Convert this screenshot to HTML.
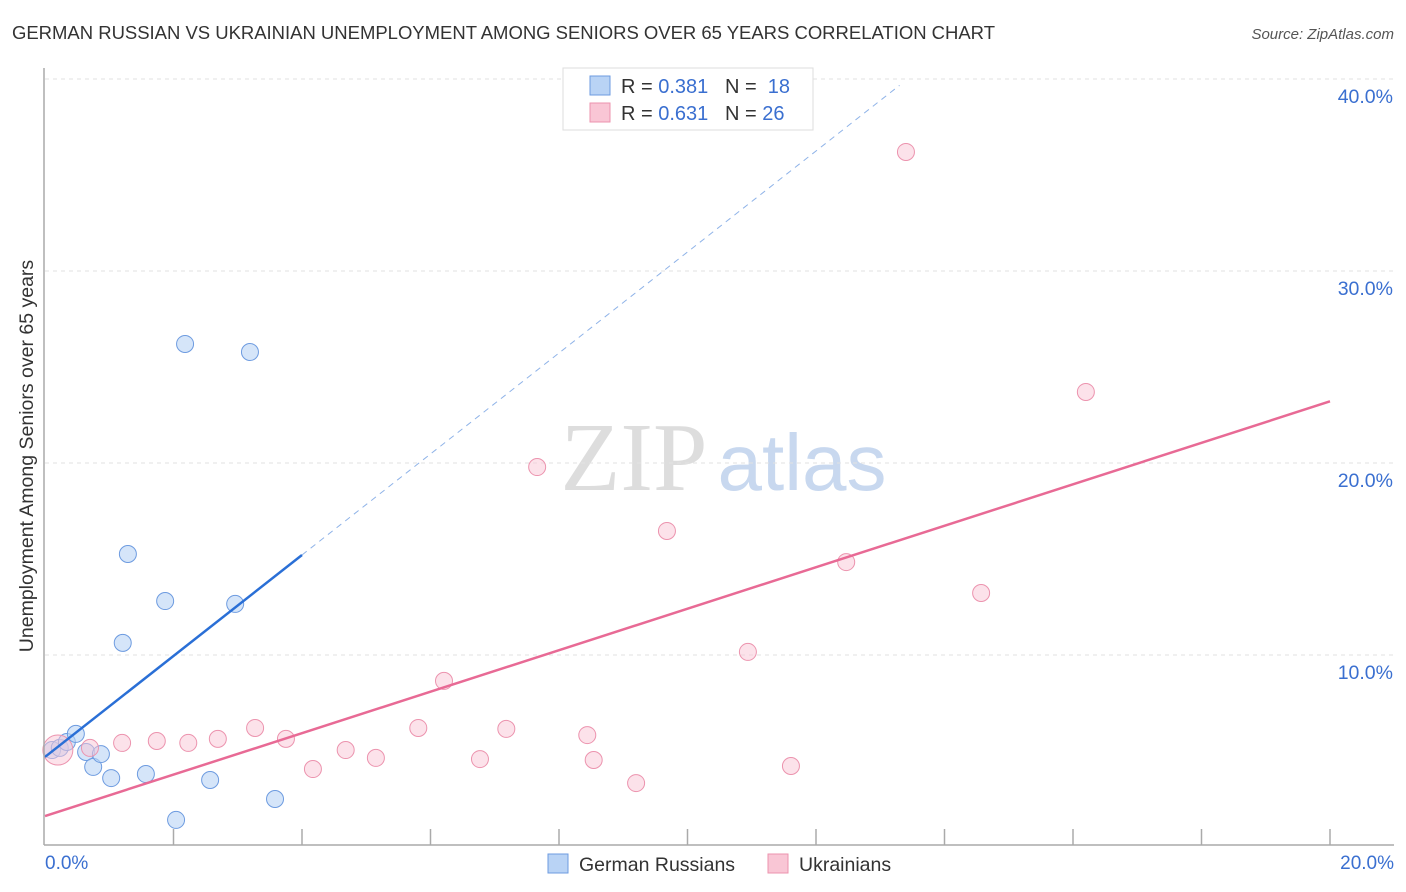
<!DOCTYPE html>
<html><head><meta charset="utf-8"><style>
body{margin:0;background:#fff;font-family:"Liberation Sans",sans-serif}
svg{display:block}
</style></head><body>
<svg id="c" width="1406" height="892">
<text x="12" y="39" font-size="18.5" fill="#333" textLength="983">GERMAN RUSSIAN VS UKRAINIAN UNEMPLOYMENT AMONG SENIORS OVER 65 YEARS CORRELATION CHART</text>
<text x="1394" y="39" font-size="15" fill="#555" font-style="italic" text-anchor="end">Source: ZipAtlas.com</text>
<text x="634" y="490" font-size="98" fill="#ddd" font-family="Liberation Serif,serif" text-anchor="middle">ZIP</text>
<text x="802" y="490" font-size="80" fill="#c8d8ef" text-anchor="middle">atlas</text>
<text transform="translate(33,456) rotate(-90)" font-size="19.5" fill="#333" text-anchor="middle">Unemployment Among Seniors over 65 years</text>
<g id="grid"></g><g id="marks"></g>
<line x1="44" y1="68" x2="44" y2="845" stroke="#aaa" stroke-width="1.5"/>
<line x1="44" y1="845" x2="1394" y2="845" stroke="#aaa" stroke-width="1.5"/>
<text x="45" y="869" font-size="19" fill="#3a6fd0">0.0%</text>
<text x="1394" y="869" font-size="19" fill="#3a6fd0" text-anchor="end">20.0%</text>
<g>
<rect x="563" y="68" width="250" height="62" fill="#fff" stroke="#ddd"/>
<rect x="590" y="76" width="20" height="19" fill="#b9d3f5" stroke="#6d9be0"/>
<rect x="590" y="103" width="20" height="19" fill="#f9c6d5" stroke="#ec93ae"/>
<text x="621" y="93" font-size="20" fill="#333">R = <tspan fill="#3a6fd0">0.381</tspan>&#160;&#160;&#160;N = &#160;<tspan fill="#3a6fd0">18</tspan></text>
<text x="621" y="120" font-size="20" fill="#333">R = <tspan fill="#3a6fd0">0.631</tspan>&#160;&#160;&#160;N = <tspan fill="#3a6fd0">26</tspan></text>
</g>
<g>
<rect x="548" y="854" width="20" height="19" fill="#b9d3f5" stroke="#6d9be0"/>
<text x="579" y="871" font-size="19.5" fill="#333">German Russians</text>
<rect x="768" y="854" width="20" height="19" fill="#f9c6d5" stroke="#ec93ae"/>
<text x="799" y="871" font-size="19.5" fill="#333">Ukrainians</text>
</g>
</svg>
<script>
const blueX=[0.11,0.23,0.34,0.48,0.64,0.75,0.87,1.03,1.29,1.21,1.57,1.87,2.18,2.04,2.57,2.96,3.19,3.58];
const blueY=[5.05,5.16,5.47,5.89,4.95,4.17,4.84,3.59,15.26,10.63,3.80,12.81,26.20,1.41,3.49,12.66,25.78,2.50];
const pinkX=[0.2,0.7,1.2,1.74,2.23,2.69,3.27,3.75,4.17,4.68,5.15,5.81,6.21,6.77,7.18,7.66,8.44,8.54,9.2,9.68,10.94,11.61,12.47,13.4,14.57,16.2];
const pinkY=[5.05,5.16,5.42,5.52,5.42,5.63,6.2,5.63,4.06,5.05,4.64,6.2,8.65,4.58,6.15,19.79,5.83,4.53,3.33,16.46,10.16,4.22,14.84,36.2,13.23,23.7];
const blueTrend=[4.69,2.63];
const pinkTrend=[1.61,1.08];
const yTicks=[10,20,30,40];
const xTicks=[2,4,6,8,10,12,14,16,18,20];
const ns="http://www.w3.org/2000/svg";
const sx=v=>45+v*64.25, sy=v=>847-v*19.2;
function mk(t,a,p){const e=document.createElementNS(ns,t);for(const k in a)e.setAttribute(k,a[k]);p.appendChild(e);return e;}
const g=document.getElementById('grid'),m=document.getElementById('marks');
yTicks.forEach(v=>{
 const l=mk('line',{x1:45,x2:1394,y1:sy(v),y2:sy(v),stroke:'#e2e2e2','stroke-dasharray':'4 4'},g);
 
 
 const t=mk('text',{x:1393,y:sy(v)+24,'font-size':19.5,fill:'#3a6fd0','text-anchor':'end'},g);t.textContent=v.toFixed(1)+'%';
 
 
});
xTicks.forEach(v=>{
 const l=mk('line',{x1:sx(v),x2:sx(v),y1:829,y2:845,stroke:'#aaa','stroke-width':1.5},g);
 
 
});
blueX.forEach((x,i)=>{
 const c=mk('circle',{cx:sx(x),cy:sy(blueY[i]),r:8.5,fill:'rgba(185,211,245,0.6)',stroke:'#6d9be0','stroke-width':1},m);
 
 
});
pinkX.forEach((x,i)=>{
 const c=mk('circle',{cx:sx(x),cy:sy(pinkY[i]),r:i==0?15:8.5,fill:'rgba(249,198,213,0.5)',stroke:'#ec93ae','stroke-width':1},m);
 
 
});
let l=mk('line',{x1:sx(0),y1:sy(blueTrend[0]),x2:sx(4),y2:sy(blueTrend[0]+4*blueTrend[1]),stroke:'#2a6fd6','stroke-width':2.5},m);


l=mk('line',{x1:sx(4),y1:sy(blueTrend[0]+4*blueTrend[1]),x2:sx(13.3),y2:sy(blueTrend[0]+13.3*blueTrend[1]),stroke:'#8fb3e8','stroke-width':1,'stroke-dasharray':'6 5'},m);


l=mk('line',{x1:sx(0),y1:sy(pinkTrend[0]),x2:sx(20),y2:sy(pinkTrend[0]+20*pinkTrend[1]),stroke:'#e86a95','stroke-width':2.5},m);


</script>
</body></html>
